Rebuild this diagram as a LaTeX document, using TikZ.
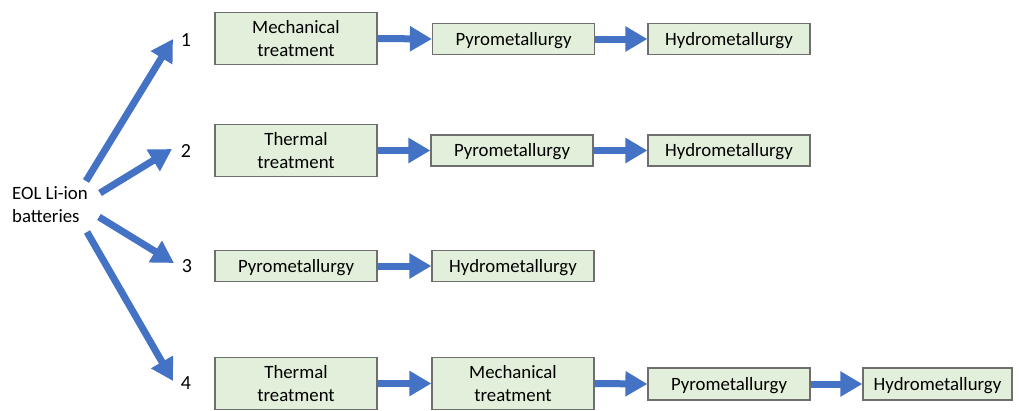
\documentclass[tikz,border=0pt]{standalone}
\usepackage{fontspec}
\setmainfont{Carlito}
\usetikzlibrary{arrows.meta}
\definecolor{boxfill}{HTML}{E2EFDA}
\definecolor{boxline}{HTML}{6E6E6E}
\definecolor{arrowblue}{HTML}{4472C4}
\begin{document}
\begin{tikzpicture}[x=1pt,y=-1pt,
  stagebox/.style={draw=boxline,line width=1.2pt,fill=boxfill,rectangle,inner sep=0pt,align=center,
    font=\fontsize{18.8}{22.5}\selectfont},
  tall/.style={minimum width=162pt,minimum height=52pt},
  short/.style={minimum width=162pt,minimum height=31pt,text height=14.5pt,text depth=2pt},
  flow/.style={draw=arrowblue,line width=7pt,-{Triangle[length=22pt,width=24pt]}},
  numlabel/.style={inner sep=0pt,font=\fontsize{20}{22}\selectfont}
]
\useasboundingbox (0,0) rectangle (1019,410);

% source
\node[inner sep=0pt,align=left,font=\fontsize{18.8}{23}\selectfont,anchor=west] (src) at (12,205) {EOL Li-ion\\batteries};

% route labels
\node[numlabel] (n1) at (186,40) {1};
\node[numlabel] (n2) at (186,151) {2};
\node[numlabel] (n3) at (187,266) {3};
\node[numlabel] (n4) at (186,383) {4};

% tails and heads of diagonal arrows
\coordinate (s1) at (86,181);
\coordinate (s2) at (100,193);
\coordinate (s3) at (99,217);
\coordinate (s4) at (87,232);
\coordinate (e1) at (173,39);
\coordinate (e2) at (172,149);
\coordinate (e3) at (174,263);
\coordinate (e4) at (173,381);
\draw[flow] (s1) -- (e1);
\draw[flow] (s2) -- (e2);
\draw[flow] (s3) -- (e3);
\draw[flow] (s4) -- (e4);

% row 1
\node[stagebox,tall] (a1) at (296,38.5) {Mechanical\\treatment};
\node[stagebox,short] (a2) at (513.5,39) {Pyrometallurgy};
\node[stagebox,short] (a3) at (729,39) {Hydrometallurgy};
% row 2
\node[stagebox,tall] (b1) at (296,150.5) {Thermal\\treatment};
\node[stagebox,short] (b2) at (512,150.5) {Pyrometallurgy};
\node[stagebox,short] (b3) at (729,150.5) {Hydrometallurgy};
% row 3
\node[stagebox,short] (c1) at (296,266) {Pyrometallurgy};
\node[stagebox,short] (c2) at (513,266) {Hydrometallurgy};
% row 4
\node[stagebox,tall] (d1) at (296,383.5) {Thermal\\treatment};
\node[stagebox,tall] (d2) at (513,383.5) {Mechanical\\treatment};
\node[stagebox,short,minimum height=32pt] (d3) at (729,384) {Pyrometallurgy};
\node[stagebox,short,minimum height=32pt,minimum width=149pt] (d4) at (937.5,384) {Hydrometallurgy};

\draw[flow] (a1.east) -- (a2.west);
\draw[flow] (a2.east) -- (a3.west);
\draw[flow] (b1.east) -- (b2.west);
\draw[flow] (b2.east) -- (b3.west);
\draw[flow] (c1.east) -- (c2.west);
\draw[flow] (d1.east) -- (d2.west);
\draw[flow] (d2.east) -- (d3.west);
\draw[flow] (d3.east) -- (d4.west);
\end{tikzpicture}
\end{document}
